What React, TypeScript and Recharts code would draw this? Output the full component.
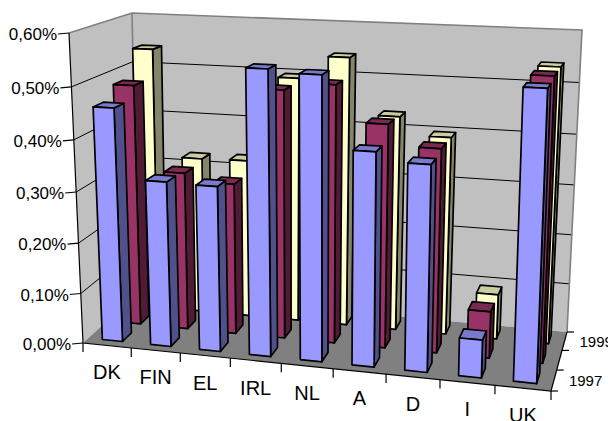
import { BarChart, Bar, XAxis, YAxis, Customized } from 'recharts';

const countries = ['DK', 'FIN', 'EL', 'IRL', 'NL', 'A', 'D', 'I', 'UK'];
const values1997 = [0.459, 0.324, 0.322, 0.546, 0.54, 0.406, 0.389, 0.072, 0.535];
const values1998 = [0.484, 0.317, 0.302, 0.49, 0.505, 0.436, 0.396, 0.091, 0.54];
const values1999 = [0.539, 0.322, 0.324, 0.495, 0.54, 0.43, 0.395, 0.09, 0.54];
const yearLabels = ['1997', '', '1999'];
const yTicks = [0, 0.1, 0.2, 0.3, 0.4, 0.5, 0.6];
const Y_MAX = 0.6;

const data = countries.map((name, i) => ({
  name,
  y1997: values1997[i],
  y1998: values1998[i],
  y1999: values1999[i],
}));

const WIDTH = 608;
const HEIGHT = 421;
const BAND = WIDTH / countries.length;
const BAR_SIZE = BAND * 0.42;
const FONT = '"Liberation Sans", Arial, sans-serif';

type Pt = [number, number];

// unit square -> quad, used for the floor and the ceiling of the 3D box
function quadMap(p0: Pt, p1: Pt, p2: Pt, p3: Pt) {
  const dx1 = p1[0] - p2[0];
  const dx2 = p3[0] - p2[0];
  const sx = p0[0] - p1[0] + p2[0] - p3[0];
  const dy1 = p1[1] - p2[1];
  const dy2 = p3[1] - p2[1];
  const sy = p0[1] - p1[1] + p2[1] - p3[1];
  const den = dx1 * dy2 - dx2 * dy1;
  const g = (sx * dy2 - dx2 * sy) / den;
  const h = (dx1 * sy - sx * dy1) / den;
  const a = p1[0] - p0[0] + g * p1[0];
  const b = p3[0] - p0[0] + h * p3[0];
  const d = p1[1] - p0[1] + g * p1[1];
  const e = p3[1] - p0[1] + h * p3[1];
  return (u: number, v: number): Pt => {
    const w = g * u + h * v + 1;
    return [(a * u + b * v + p0[0]) / w, (d * u + e * v + p0[1]) / w];
  };
}

const floor = quadMap([83, 343], [551, 391], [567, 332], [138, 292.5]);
const ceiling = quadMap([69, 33], [564, 53.7], [582, 30], [132, 13]);

// u along the categories, d into the depth, h up the value axis (all 0..1)
function project(u: number, d: number, h: number): Pt {
  const warped = h / (1.053 - 0.053 * h);
  const a = floor(u, d);
  const b = ceiling(u, d);
  return [a[0] + (b[0] - a[0]) * warped, a[1] + (b[1] - a[1]) * warped];
}

const path = (pts: Pt[]) => pts.map((p) => `${p[0].toFixed(1)},${p[1].toFixed(1)}`).join(' ');

interface BoxColors {
  front: string;
  side: string;
  top: string;
}

// Bar shape: takes the flat rectangle from the chart scales and draws a box at its depth slot
function box(d0: number, d1: number, colors: BoxColors) {
  return function Box(props: any) {
    const { x, y, width } = props;
    const u0 = x / WIDTH;
    const u1 = (x + width) / WIDTH;
    const h = (HEIGHT - y) / HEIGHT;
    const line = { stroke: '#000', strokeWidth: 1.7, strokeLinejoin: 'round' as const };
    return (
      <g>
        <polygon
          points={path([project(u1, d0, 0), project(u1, d1, 0), project(u1, d1, h), project(u1, d0, h)])}
          fill={colors.side}
          {...line}
        />
        <polygon
          points={path([project(u0, d0, h), project(u1, d0, h), project(u1, d1, h), project(u0, d1, h)])}
          fill={colors.top}
          {...line}
        />
        <polygon
          points={path([project(u0, d0, 0), project(u1, d0, 0), project(u1, d0, h), project(u0, d0, h)])}
          fill={colors.front}
          {...line}
        />
      </g>
    );
  };
}

function Walls() {
  const wallEdge = { stroke: '#808080', strokeWidth: 1.6, fill: 'none' };
  return (
    <g>
      <polygon points={path([project(0, 1, 0), project(1, 1, 0), project(1, 1, 1), project(0, 1, 1)])} fill="#C0C0C0" />
      <polygon points={path([project(0, 0, 0), project(0, 1, 0), project(0, 1, 1), project(0, 0, 1)])} fill="#C0C0C0" />
      <polygon points={path([project(0, 0, 0), project(1, 0, 0), project(1, 1, 0), project(0, 1, 0)])} fill="#808080" />
      {/* gridlines run along the side wall and round the corner on the back wall */}
      {yTicks.slice(1, -1).map((tick) => {
        const h = tick / Y_MAX;
        return (
          <polyline
            key={tick}
            points={path([project(0, 0, h), project(0, 1, h), project(1, 1, h)])}
            fill="none"
            stroke="#000"
            strokeWidth={1}
          />
        );
      })}
      <polyline points={path([project(0, 0, 1), project(0, 1, 1), project(1, 1, 1), project(1, 1, 0)])} {...wallEdge} />
      <polyline points={path([project(0, 1, 1), project(0, 1, 0)])} {...wallEdge} />
      <polyline points={path([project(0, 0, 1), project(0, 0, 0), project(1, 0, 0), project(1, 1, 0)])} fill="none" stroke="#000" strokeWidth={1.2} />
      {[0, 1, 2, 3].map((k) => {
        const p = project(1, k / 3, 0);
        return <line key={k} x1={p[0]} y1={p[1]} x2={p[0] + 7} y2={p[1]} stroke="#000" strokeWidth={1.2} />;
      })}
      {yearLabels.map((label, k) => {
        const p = project(1, (k + 0.5) / 3, 0);
        return (
          <text key={k} x={p[0] + 15} y={p[1] + 6} fontSize={15} fontFamily={FONT} fill="#000">
            {label}
          </text>
        );
      })}
    </g>
  );
}

function CategoryTick(props: any) {
  const { x, index, payload } = props;
  const u = x / WIDTH;
  const left = project(u - 0.5 / countries.length, 0, 0);
  const mid = project(u, 0, 0);
  const right = project(u + 0.5 / countries.length, 0, 0);
  return (
    <g>
      <line x1={left[0]} y1={left[1]} x2={left[0]} y2={left[1] + 9} stroke="#000" strokeWidth={1.2} />
      {index === countries.length - 1 && (
        <line x1={right[0]} y1={right[1]} x2={right[0]} y2={right[1] + 9} stroke="#000" strokeWidth={1.2} />
      )}
      <text x={mid[0]} y={mid[1] + 34} textAnchor="middle" fontSize={20} fontFamily={FONT} fill="#000">
        {payload.value}
      </text>
    </g>
  );
}

function ValueTick(props: any) {
  const { y, payload } = props;
  const p = project(0, 0, (HEIGHT - y) / HEIGHT);
  return (
    <g>
      <line x1={p[0] - 11} y1={p[1] + 1} x2={p[0]} y2={p[1]} stroke="#000" strokeWidth={1.2} />
      <text x={p[0] - 12} y={p[1] + 7} textAnchor="end" fontSize={17} fontFamily={FONT} fill="#000">
        {payload.value.toFixed(2).replace('.', ',')}%
      </text>
    </g>
  );
}

export default function App() {
  return (
    <div style={{ position: 'absolute', left: 0, top: 0, width: WIDTH, height: HEIGHT, overflow: 'hidden', background: '#fff' }}>
      <BarChart
        width={WIDTH}
        height={HEIGHT}
        data={data}
        margin={{ top: 0, right: 0, bottom: 0, left: 0 }}
        barSize={BAR_SIZE}
        barGap={-BAR_SIZE}
      >
        <Customized component={Walls} />
        <XAxis dataKey="name" mirror interval={0} axisLine={false} tickLine={false} tick={CategoryTick} />
        <YAxis mirror domain={[0, Y_MAX]} ticks={yTicks} interval={0} axisLine={false} tickLine={false} tick={ValueTick} />
        <Bar
          dataKey="y1999"
          isAnimationActive={false}
          shape={box(0.76, 0.92, { front: '#FFFFCC', side: '#85856B', top: '#CCCCA3' })}
        />
        <Bar
          dataKey="y1998"
          isAnimationActive={false}
          shape={box(0.42, 0.58, { front: '#993366', side: '#511B36', top: '#7A2952' })}
        />
        <Bar
          dataKey="y1997"
          isAnimationActive={false}
          shape={box(0.09, 0.25, { front: '#9999FF', side: '#50508A', top: '#7A7ACC' })}
        />
      </BarChart>
    </div>
  );
}
